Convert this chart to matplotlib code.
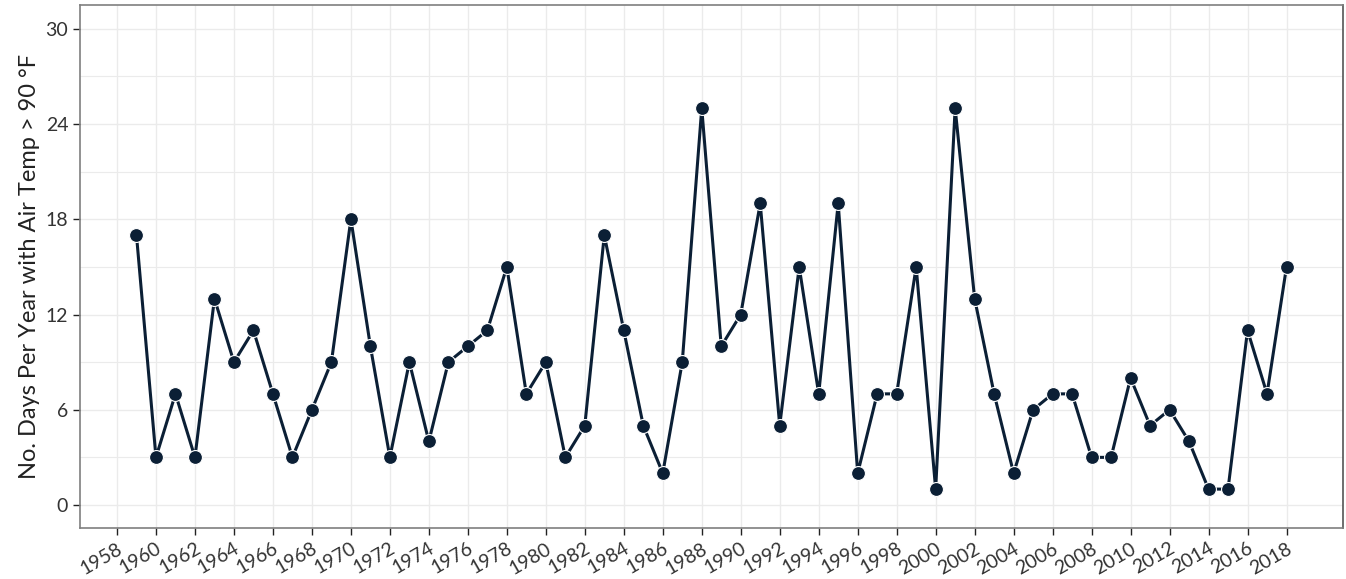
import matplotlib
matplotlib.use("Agg")
import matplotlib.pyplot as plt
from matplotlib.ticker import MultipleLocator

years = list(range(1959, 2019))
days = [17, 3, 7, 3, 13, 9, 11, 7, 3, 6,
        9, 18, 10, 3, 9, 4, 9, 10, 11, 15,
        7, 9, 3, 5, 17, 11, 5, 2, 9, 25,
        10, 12, 19, 5, 15, 7, 19, 2, 7, 7,
        15, 1, 25, 13, 7, 2, 6, 7, 7, 3,
        3, 8, 5, 6, 4, 1, 1, 11, 7, 15]
xticks = list(range(1958, 2019, 2))
yticks = [0, 6, 12, 18, 24, 30]

plt.rcParams['font.family'] = ['Lato', 'DejaVu Sans']
fig = plt.figure(figsize=(13.46, 5.79), dpi=100)
ax = fig.add_axes([0.0594, 0.0881, 0.9384, 0.9033])

col = '#0b1f35'
ax.plot(years, days, color=col, lw=2.2, zorder=3)
ax.plot(years, days, 'o', color=col, ms=10, mec='white', mew=0.8, zorder=4)

ax.set_xlim(1956.1, 2020.9)
ax.set_ylim(-1.45, 31.5)
ax.set_xticks(xticks)
ax.set_xticklabels([str(t) for t in xticks], rotation=30, ha='right',
                   rotation_mode='anchor', fontsize=14, color='#333333')
ax.set_yticks(yticks)
ax.set_yticklabels([str(t) for t in yticks], fontsize=14, color='#333333')
ax.yaxis.set_minor_locator(MultipleLocator(3))
ax.grid(True, which='major', color='#ebebeb', lw=1.0)
ax.grid(True, which='minor', axis='y', color='#ebebeb', lw=0.8)
ax.set_axisbelow(True)
ax.tick_params(axis='both', which='major', length=5, width=1, color='#222222')
ax.tick_params(axis='y', which='minor', length=0)
for s in ax.spines.values():
    s.set_color('#7f7f7f')
    s.set_linewidth(1.2)
ax.spines['right'].set_color('#555555')
ax.set_ylabel('No. Days Per Year with Air Temp > 90 °F', fontsize=17, color='#222222')

fig.savefig('out.png', dpi=100)
